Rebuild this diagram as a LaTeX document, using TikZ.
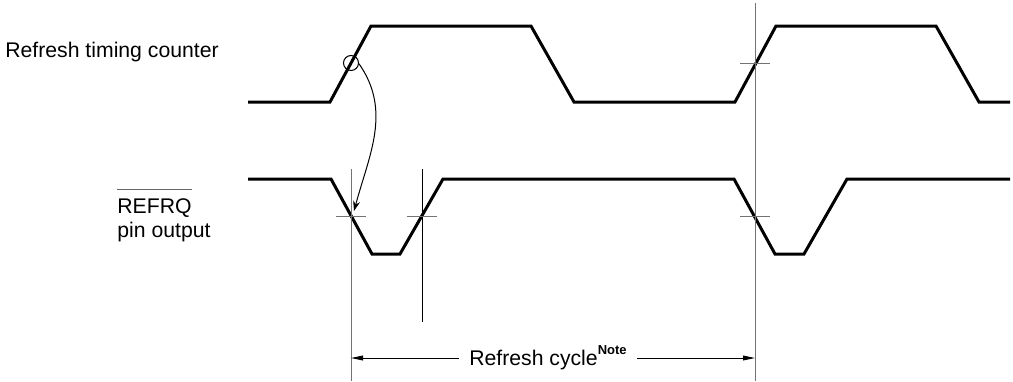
\documentclass[tikz,border=0pt]{standalone}
\usepackage{fontspec}
\setmainfont{Liberation Sans}
\usetikzlibrary{arrows.meta}
\begin{document}
\begin{tikzpicture}[x=0.5pt,y=-0.5pt,
    wave/.style={line width=1.5pt,line join=miter},
    guide/.style={line width=0.5pt,black!55},
    tick/.style={line width=0.5pt,black!55},
    dim/.style={line width=0.5pt,-{Triangle[length=6pt,width=2.4pt]}},
    lbl/.style={inner sep=0pt,font=\fontsize{10.6}{12.7}\selectfont}]
\useasboundingbox (0,0) rectangle (1013,381);
% signals
\draw[wave] (248,102)--(330,102)--(371,26)--(531,26)--(574,102)--(735,102)--(776,26)--(936,26)--(979,102)--(1010,102);
\draw[wave] (248,179)--(331,179)--(372,254)--(400,254)--(443,179)--(734,179)--(775,254)--(804,254)--(847,179)--(1010,179);
% crossing points
\coordinate (xa) at (351,216);
\coordinate (xb) at (422,216);
\coordinate (xc) at (755,216);
\coordinate (xd) at (755,63);
% guide lines
\draw[guide] (351,169) -- (351,381);
\draw[line width=0.5pt] (422,169) -- (422,322);
\draw[guide] (755,3) -- (755,381);
\foreach \p in {xa,xb,xc,xd}
  \draw[tick] ([xshift=-7.5pt]\p) -- ([xshift=7.5pt]\p);
% cause and effect
\node (ring) at (351,63) [circle,draw,line width=0.5pt,minimum size=7.5pt,inner sep=0pt] {};
\draw[line width=0.5pt,-{Stealth[length=5pt,width=3.5pt]}] (ring.-5) to[out=-55,in=75] ([xshift=1.5pt,yshift=2.5pt]xa);
% labels
\node (cnt) at (5,57) [lbl,anchor=base west] {Refresh timing counter};
\node (refrq) at (117,213) [lbl,anchor=base west] {REFRQ};
\draw[line width=0.5pt,black!60] ([yshift=4pt]refrq.north west) -- ([yshift=4pt]refrq.north east);
\node (pin) at (117,237) [lbl,anchor=base west] {pin output};
% refresh cycle
\coordinate (cl) at (351,358);
\coordinate (cr) at (755,358);
\node (cyc) at (548,365) [lbl,anchor=base,inner xsep=5pt] {Refresh cycle\raisebox{0.5em}{\fontsize{6.5}{7}\selectfont\bfseries Note}\hspace{2pt}};
\draw[dim] (cyc.west |- cl) -- (cl);
\draw[dim] (cyc.east |- cr) -- (cr);
\end{tikzpicture}
\end{document}
